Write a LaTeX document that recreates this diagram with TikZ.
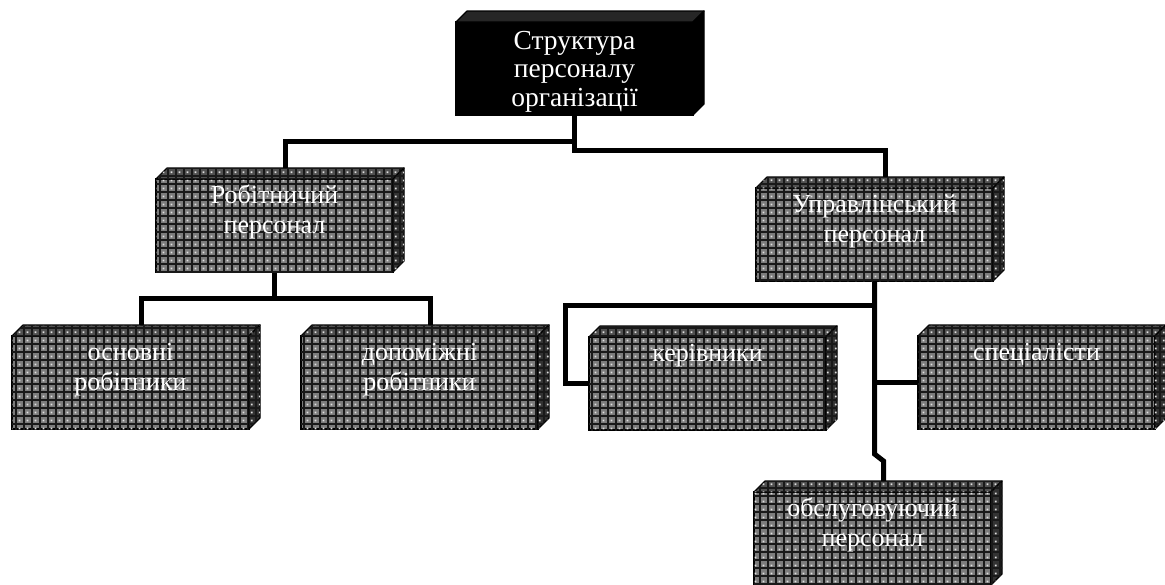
\documentclass[tikz,border=0pt]{standalone}
\usepackage{fontspec}
\setmainfont{Liberation Serif}
\usetikzlibrary{patterns}
\pgfdeclarelayer{bg}
\pgfsetlayers{bg,main}
\pgfdeclarepatternformonly{cellgrid}{\pgfpoint{-1pt}{-1pt}}{\pgfpoint{9pt}{9pt}}{\pgfpoint{8pt}{8pt}}{%
  \pgfsetlinewidth{1.1pt}%
  \pgfpathmoveto{\pgfpoint{-1pt}{0pt}}\pgfpathlineto{\pgfpoint{9pt}{0pt}}%
  \pgfpathmoveto{\pgfpoint{0pt}{-1pt}}\pgfpathlineto{\pgfpoint{0pt}{9pt}}%
  \pgfusepath{stroke}}
\pgfdeclarepatternformonly{celldots}{\pgfpoint{0pt}{0pt}}{\pgfpoint{8pt}{8pt}}{\pgfpoint{8pt}{8pt}}{%
  \pgfpathrectangle{\pgfpoint{3pt}{3pt}}{\pgfpoint{2pt}{2pt}}%
  \pgfusepath{fill}}
\definecolor{facegray}{HTML}{7C7C7C}
\definecolor{topgray}{HTML}{505050}
\definecolor{sidegray}{HTML}{333333}
\tikzset{
  frontface/.style={draw, line width=1.2pt, minimum width=237pt, minimum height=93pt,
    inner sep=0pt, outer sep=0pt, anchor=north west},
  textured/.style={postaction={pattern=celldots, pattern color=white!75!gray},
    postaction={pattern=cellgrid, pattern color=black!90}},
  grayfront/.style={frontface, fill=facegray, textured},
  blackfront/.style={frontface, fill=black},
  topgrayface/.style={draw, line width=1.2pt, line join=round, fill=topgray, textured},
  sidegrayface/.style={draw, line width=1.2pt, line join=round, fill=sidegray, textured},
  topblackface/.style={draw, line width=1.2pt, line join=round, fill=black!85},
  sideblackface/.style={draw, line width=1.2pt, line join=round, fill=black},
  lbl/.style={text=white, font=\fontsize{26}{30}\selectfont, align=center, inner sep=0pt, anchor=north},
  toplbl/.style={text=white, font=\fontsize{27.5}{28.5}\selectfont, align=center, inner sep=0pt, anchor=north},
  conn/.style={line width=5pt, line join=miter, draw=black},
}
% #1 name, #2 position of front north west, #3 front style, #4 top style, #5 side style
\newcommand\drawcube[5]{%
  \node[#3] (#1) at #2 {};
  \path[#4] (#1.north west) -- ++(11,-11) -- ([shift={(11,-11)}]#1.north east) -- (#1.north east) -- cycle;
  \path[#5] (#1.north east) -- ++(11,-11) -- ([shift={(11,-11)}]#1.south east) -- (#1.south east) -- cycle;
  \coordinate (#1-t) at ([shift={(11,-11)}]#1.north);
}
\begin{document}
\begin{tikzpicture}[x=1pt,y=-1pt]
\useasboundingbox (0,0) rectangle (1165,584);

\drawcube{top}{(456,22)}{blackfront}{topblackface}{sideblackface}
\drawcube{rob}{(156,179)}{grayfront}{topgrayface}{sidegrayface}
\drawcube{upr}{(756,188)}{grayfront}{topgrayface}{sidegrayface}
\drawcube{osn}{(12,336)}{grayfront}{topgrayface}{sidegrayface}
\drawcube{dop}{(301,336)}{grayfront}{topgrayface}{sidegrayface}
\drawcube{ker}{(589,337)}{grayfront}{topgrayface}{sidegrayface}
\drawcube{spec}{(918,336)}{grayfront}{topgrayface}{sidegrayface}
\drawcube{obs}{(754,492)}{grayfront}{topgrayface}{sidegrayface}

\node[toplbl] (top-l) at ([yshift=-7pt]top.north) {\strut Структура\\\strut персоналу\\\strut організації};
\node[lbl] (rob-l) at ([yshift=-3pt]rob.north) {\strut Робітничий\\\strut персонал};
\node[lbl] (upr-l) at ([yshift=-3pt]upr.north) {\strut Управлінський\\\strut персонал};
\node[lbl] (osn-l) at ([yshift=-3pt]osn.north) {\strut основні\\\strut робітники};
\node[lbl] (dop-l) at ([yshift=-3pt]dop.north) {\strut допоміжні\\\strut робітники};
\node[lbl] (ker-l) at ([yshift=-3pt]ker.north) {\strut керівники};
\node[lbl] (spec-l) at ([yshift=-3pt]spec.north) {\strut спеціалісти};
\node[lbl] (obs-l) at ([yshift=-3pt]obs.north) {\strut обслуговуючий\\\strut персонал};

\begin{pgfonlayer}{bg}
  \fill[white] (0,0) rectangle (1165,584);
  \draw[conn] (top.south) -- ++(0,26) -| (rob-t);
  \draw[conn] (top.south) -- ++(0,35) -| (upr-t);
  \draw[conn] (rob.south) -- ++(0,26) coordinate (rj);
  \draw[conn] (osn-t) |- (rj) -| (dop-t);
  \draw[conn] (upr.south) -- ([yshift=27pt]obs-t -| upr.south) -- ([yshift=20pt]obs-t) -- (obs-t);
  \draw[conn] ([yshift=-24pt]upr.south) -| ([xshift=-24pt]ker.west) -- (ker.west);
  \draw[conn] (spec.west -| upr.south) -- (spec.west);
\end{pgfonlayer}
\end{tikzpicture}
\end{document}
